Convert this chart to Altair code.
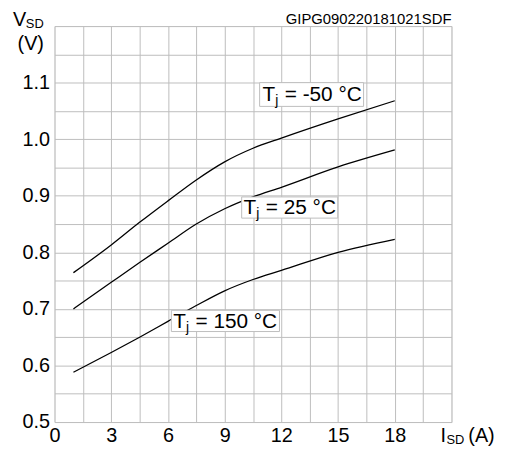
import altair as alt
import pandas as pd

# ---- data ----
current = [1, 3, 4.5, 6, 7.5, 9, 10.5, 12, 15, 18]
vsd_m50 = [0.764, 0.813, 0.853, 0.891, 0.928, 0.960, 0.984, 1.002, 1.036, 1.068]
vsd_25 = [0.700, 0.747, 0.782, 0.816, 0.850, 0.877, 0.898, 0.915, 0.951, 0.981]
vsd_150 = [0.588, 0.623, 0.650, 0.678, 0.706, 0.732, 0.752, 0.768, 0.800, 0.823]
series_names = ["-50", "25", "150"]

x_grid = [0, 1.5, 3, 4.5, 6, 7.5, 9, 10.5, 12, 13.5, 15, 16.5, 18, 19.5, 21]
x_labels = [0, 3, 6, 9, 12, 15, 18]
y_grid = [0.5, 0.55, 0.6, 0.65, 0.7, 0.75, 0.8, 0.85, 0.9, 0.95, 1.0, 1.05, 1.1, 1.15, 1.2]
y_labels = [0.5, 0.6, 0.7, 0.8, 0.9, 1.0, 1.1]

label_rest = ["= -50 °C", "= 25 °C", "= 150 °C"]
label_x = [11.0, 10.0, 6.28]
label_y = [1.067, 0.8675, 0.666]
box_x1 = [10.85, 9.9, 6.18]
box_x2 = [16.35, 14.98, 11.9]
box_y1 = [1.1, 0.898, 0.6975]
box_y2 = [1.058, 0.8605, 0.66]

FONT = "Liberation Sans"

rows = []
for name, vals in zip(series_names, [vsd_m50, vsd_25, vsd_150]):
    for i, v in zip(current, vals):
        rows.append({"I": i, "V": v, "series": name})
curves = pd.DataFrame(rows)

labels = pd.DataFrame({
    "I": label_x, "V": label_y, "rest": label_rest,
    "bx1": box_x1, "bx2": box_x2, "by1": box_y1, "by2": box_y2,
})

x_label_expr = f"indexof({x_labels}, datum.value) >= 0 ? format(datum.value, '.0f') : ''"
y_label_expr = f"indexof({y_labels}, datum.value) >= 0 ? format(datum.value, '.1f') : ''"

x_axis = alt.Axis(values=x_grid, labelExpr=x_label_expr, grid=True, domain=False,
                  ticks=False, tickSize=0, title=None, labelFont=FONT, labelFontSize=20,
                  labelColor="black", labelPadding=20, labelBaseline="alphabetic",
                  labelOverlap=False, labelFlush=False, labelBound=False,
                  gridColor="#bdbdbd", gridWidth=1)
y_axis = alt.Axis(values=y_grid, labelExpr=y_label_expr, grid=True, domain=False,
                  ticks=False, tickSize=0, title=None, labelFont=FONT, labelFontSize=20,
                  labelColor="black", labelPadding=5, labelOverlap=False,
                  labelFlush=False, labelBound=False, gridColor="#bdbdbd", gridWidth=1)
x_scale = alt.Scale(domain=[0, 21], nice=False, zero=False)
y_scale = alt.Scale(domain=[0.5, 1.2], nice=False, zero=False)


def X(field):
    return alt.X(f"{field}:Q", scale=x_scale, axis=x_axis)


def Y(field):
    return alt.Y(f"{field}:Q", scale=y_scale, axis=y_axis)


lines = alt.Chart(curves).mark_line(color="black", strokeWidth=1.3, interpolate="monotone").encode(
    x=X("I"), y=Y("V"), detail="series:N"
)

boxes = alt.Chart(labels).mark_rect(fill="white", stroke="#bdbdbd", strokeWidth=1).encode(
    x=X("bx1"), x2="bx2", y=Y("by1"), y2="by2"
)

t_main = alt.Chart(labels).mark_text(font=FONT, fontSize=21, align="left", baseline="alphabetic",
                                     color="black").encode(x=X("I"), y=Y("V"), text=alt.value("T"))
t_sub = alt.Chart(labels).mark_text(font=FONT, fontSize=14, align="left", baseline="alphabetic",
                                    dx=12.9, dy=4, color="black").encode(x=X("I"), y=Y("V"), text=alt.value("j"))
t_rest = alt.Chart(labels).mark_text(font=FONT, fontSize=21, align="left", baseline="alphabetic",
                                     dx=22.5, color="black").encode(x=X("I"), y=Y("V"), text="rest:N")

one = pd.DataFrame({"k": [0]})


def ptext(txt, x, y, size, align="left"):
    return alt.Chart(one).mark_text(font=FONT, fontSize=size, align=align, baseline="alphabetic",
                                    color="black").encode(x=alt.value(x), y=alt.value(y), text=alt.value(txt))


titles = [
    ptext("V", -42, 0, 20),
    ptext("SD", -29, 2, 13),
    ptext("(V)", -24, 24, 20, "center"),
    ptext("I", 390, 420, 20),
    ptext("SD", 396, 422, 13),
    ptext("(A)", 418, 420, 20),
    ptext("GIPG090220181021SDF", 401, -2, 15, "right"),
]

chart = alt.layer(lines, boxes, t_main, t_sub, t_rest, *titles).properties(
    width=401, height=400,
    autosize=alt.AutoSizeParams(type="none"),
    padding={"left": 47, "top": 16, "right": 48, "bottom": 28},
).configure_view(stroke="black", strokeWidth=1.5).configure(background="white")

chart.save("out.html", embed_options={"renderer": "svg", "actions": False})
